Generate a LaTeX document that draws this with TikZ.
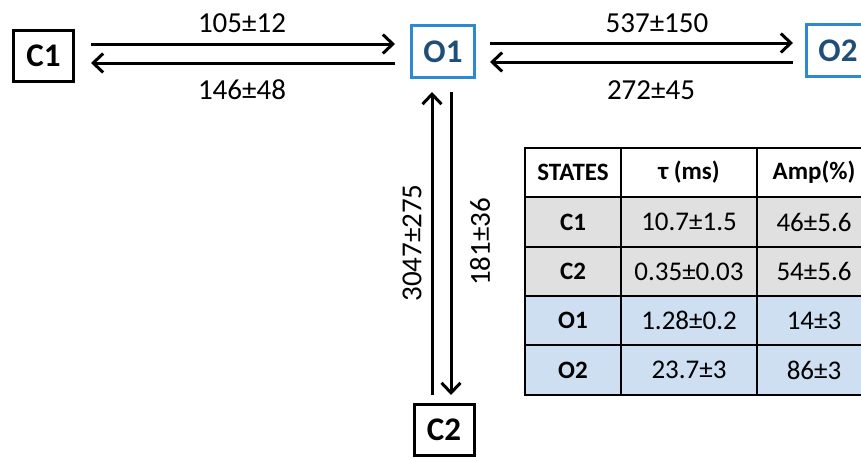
\documentclass[tikz,border=0pt]{standalone}
\usepackage{fontspec}
\setmainfont{Carlito}
\usetikzlibrary{arrows.meta}
\definecolor{boxblue}{HTML}{2E8AD0}
\definecolor{txtblue}{HTML}{1F4E79}
\definecolor{rowgrey}{HTML}{E0E0E0}
\definecolor{rowblue}{HTML}{CFDFF2}
\tikzset{
  statebox/.style={draw=black, line width=3pt, minimum width=60pt, minimum height=51pt, inner sep=0pt, font=\fontsize{33}{36}\selectfont\bfseries},
  openbox/.style={statebox, draw=boxblue, text=txtblue, minimum width=63pt, minimum height=52pt},
  arr/.style={line width=3pt, -{Straight Barb[length=10pt,width=19pt,line width=3pt]}},
  rate/.style={font=\fontsize{29}{32}\selectfont, inner sep=0pt},
  cellhead/.style={font=\fontsize{25}{28}\selectfont\bfseries, inner sep=0pt},
  cellval/.style={font=\fontsize{27}{30}\selectfont, inner sep=0pt},
}
\begin{document}
\begin{tikzpicture}[x=1pt,y=-1pt]
\useasboundingbox (0,0) rectangle (861,458);
\clip (0,0) rectangle (861,458);
% state boxes
\node[statebox] (C1) at (43.5,55.5) {C1};
\node[openbox] (O1) at (443,51.5) {O1};
\node[openbox] (O2) at (838,50.5) {O2};
\node[statebox] (C2) at (444,430) {C2};
% horizontal arrows
\draw[arr] ([xshift=16pt,yshift=11.5pt]C1.east) -- ([xshift=-15pt,yshift=7.5pt]O1.west);
\draw[arr] ([xshift=-15pt,yshift=-11.5pt]O1.west) -- ([xshift=16pt,yshift=-7.5pt]C1.east);
\draw[arr] ([xshift=14pt,yshift=8.5pt]O1.east) -- ([xshift=-12pt,yshift=7.5pt]O2.west);
\draw[arr] ([xshift=-12pt,yshift=-11.5pt]O2.west) -- ([xshift=14pt,yshift=-10.5pt]O1.east);
% vertical arrows
\draw[arr] ([xshift=-12pt,yshift=8pt]C2.north) -- ([xshift=-11pt,yshift=-13pt]O1.south);
\draw[arr] ([xshift=8pt,yshift=-13pt]O1.south) -- ([xshift=7pt,yshift=8pt]C2.north);
% rate labels
\node[rate] (r1) at (242,23) {105±12};
\node[rate] (r2) at (242,90) {146±48};
\node[rate] (r3) at (657,23) {537±150};
\node[rate] (r4) at (651,90) {272±45};
\node[rate, rotate=90] (r5) at (412,243) {3047±275};
\node[rate, rotate=90] (r6) at (480,242) {181±36};
% table fills
\fill[rowgrey] (525,197) rectangle (871,296);
\fill[rowblue] (525,296) rectangle (871,395);
% table lines
\draw[line width=1.5pt] (525,197) -- (871,197);
\draw[line width=1.5pt] (525,247) -- (871,247);
\draw[line width=1.5pt] (525,296) -- (871,296);
\draw[line width=1.5pt] (525,345) -- (871,345);
\draw[line width=1.5pt] (621,148) -- (621,395);
\draw[line width=1.5pt] (757,148) -- (757,395);
\draw[line width=2pt] (525,148) rectangle (871,395);
% table texts
\node[cellhead] (h1) at (573,172.5) {STATES};
\node[cellhead] (h2) at (689,172.5) {τ (ms)};
\node[cellhead] (h3) at (814,172.5) {Amp(\%)};
\node[cellhead] (s1) at (573,222) {C1};
\node[cellval] (t1) at (689,222) {10.7±1.5};
\node[cellval] (a1) at (814,222) {46±5.6};
\node[cellhead] (s2) at (573,271.5) {C2};
\node[cellval] (t2) at (689,271.5) {0.35±0.03};
\node[cellval] (a2) at (814,271.5) {54±5.6};
\node[cellhead] (s3) at (573,320.5) {O1};
\node[cellval] (t3) at (689,320.5) {1.28±0.2};
\node[cellval] (a3) at (814,320.5) {14±3};
\node[cellhead] (s4) at (573,370) {O2};
\node[cellval] (t4) at (689,370) {23.7±3};
\node[cellval] (a4) at (814,370) {86±3};
\end{tikzpicture}
\end{document}
